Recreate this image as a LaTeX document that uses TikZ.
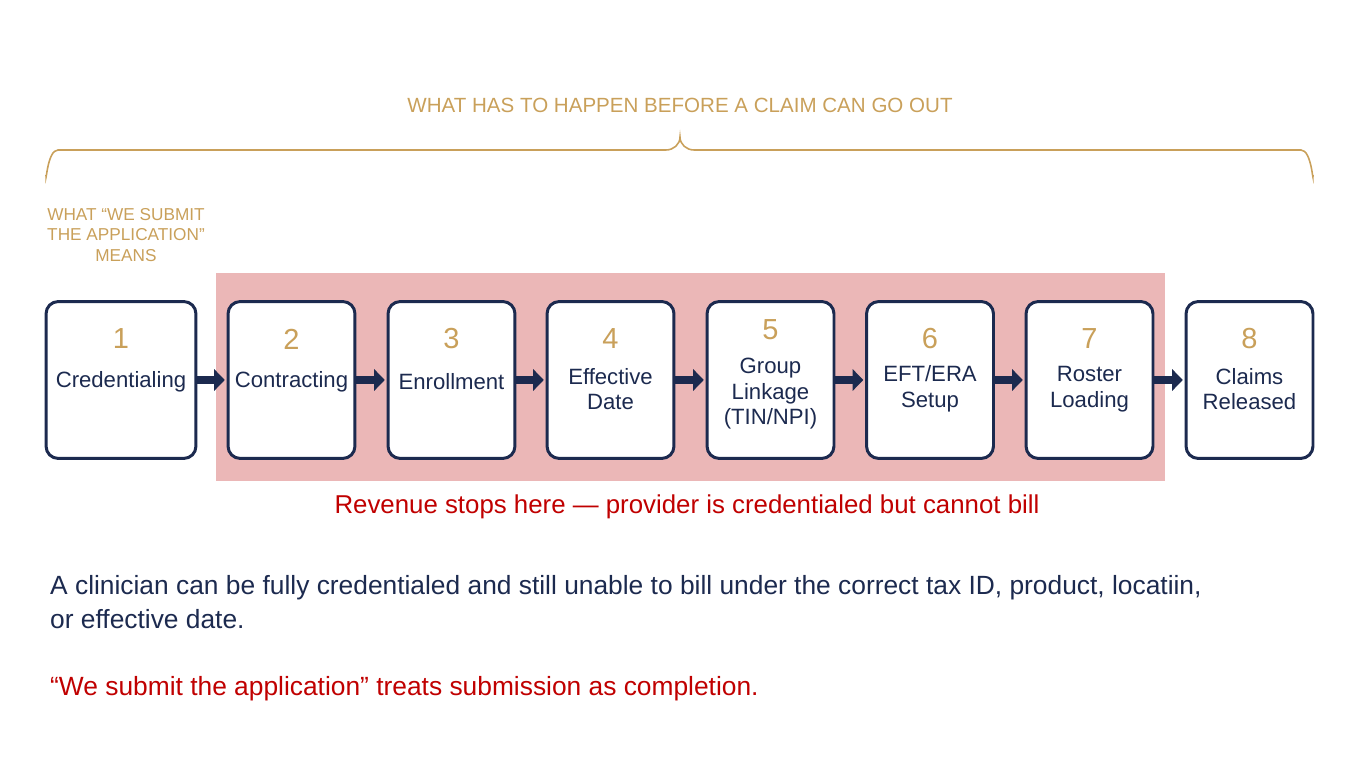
\documentclass[tikz,border=0pt]{standalone}
\usepackage{fontspec}
\setmainfont{Liberation Sans}
\usetikzlibrary{arrows.meta}
\definecolor{navy}{HTML}{1C2A4F}
\definecolor{tan}{HTML}{C9A05A}
\definecolor{stopred}{HTML}{C00000}
\definecolor{blush}{HTML}{EBB7B7}
\tikzset{
	stage/.style = {draw=navy, line width=1.7pt, rounded corners=7pt, fill=white, minimum height=3.14cm, minimum width=2.54cm},
	num/.style = {text=tan, font=\fontsize{16.5}{18}\selectfont},
	lbl/.style = {text=navy, font=\fontsize{12.6}{14.5}\selectfont, align=center},
	flow/.style = {-{Triangle[length=6pt,width=12pt]}, line width=4pt, navy, shorten <=0pt, shorten >=1pt},
}
\begin{document}
\begin{tikzpicture}[x=0.02cm, y=-0.02cm]
	\useasboundingbox (0,0) rectangle (1360,759);
	\fill[blush] (216,273) rectangle (1165,481);

	% brace and headings
	\draw[tan, line width=0.9pt] (46,175) to[out=-90,in=180] (58,150) -- (666,150) to[out=0,in=-90] (680,137)
		to[out=-90,in=180] (694,150) -- (1301,150) to[out=0,in=-90] (1313,175);
	\node[text=tan, font=\fontsize{11.7}{14}\selectfont] (title) at (680,105) {WHAT HAS TO HAPPEN BEFORE A CLAIM CAN GO OUT};
	\node[text=tan, font=\fontsize{9.8}{11.5}\selectfont, align=center] (means) at (126,235) {WHAT “WE SUBMIT\\THE APPLICATION”\\MEANS};

	% stages
	\node[stage, minimum width=3cm] (s1) at (121,380) {};
	\node[stage] (s2) at (291.5,380) {};
	\node[stage] (s3) at (451.5,380) {};
	\node[stage] (s4) at (610.5,380) {};
	\node[stage] (s5) at (770.5,380) {};
	\node[stage] (s6) at (930,380) {};
	\node[stage] (s7) at (1089.5,380) {};
	\node[stage] (s8) at (1249.5,380) {};

	\node[num] at (121,339) {1};
	\node[lbl] at (121,382) {Credentialing};
	\node[num] at (291.5,339) {2};
	\node[lbl] at (291.5,382) {Contracting};
	\node[num] at (451.5,339) {3};
	\node[lbl] at (451.5,382) {Enrollment};
	\node[num] at (610.5,339) {4};
	\node[lbl] at (610.5,389) {Effective\\Date};
	\node[num] at (770.5,330) {5};
	\node[lbl] at (770.5,394) {Group\\Linkage\\(TIN/NPI)};
	\node[num] at (930,339) {6};
	\node[lbl] at (930,389) {EFT/ERA\\Setup};
	\node[num] at (1089.5,339) {7};
	\node[lbl] at (1089.5,389) {Roster\\Loading};
	\node[num] at (1249.5,339) {8};
	\node[lbl] at (1249.5,389) {Claims\\Released};

	\foreach \a/\b in {s1/s2, s2/s3, s3/s4, s4/s5, s5/s6, s6/s7, s7/s8}
		\draw[flow] (\a.east) -- (\b.west);

	% notes
	\node[text=stopred, font=\fontsize{14.7}{16}\selectfont] (stop) at (687,507) {Revenue stops here — provider is credentialed but cannot bill};
	\node[text=navy, font=\fontsize{15}{19.5}\selectfont, align=left, anchor=north west] (body) at (44,569)
		{A clinician can be fully credentialed and still unable to bill under the correct tax ID, product, locatiin,\\or effective date.};
	\node[text=stopred, font=\fontsize{15}{16}\selectfont, anchor=west] (quote) at (44,689) {“We submit the application” treats submission as completion.};
\end{tikzpicture}
\end{document}
